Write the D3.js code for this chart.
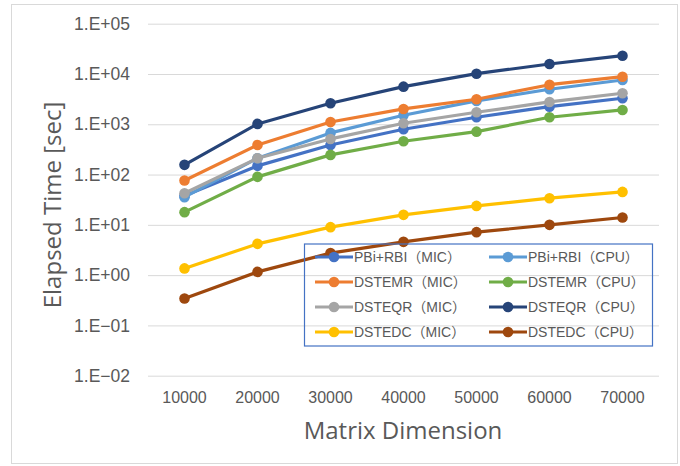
<!DOCTYPE html>
<html><head><meta charset="utf-8">
<script src="https://cdn.jsdelivr.net/npm/d3@7"></script>
<style>
body{margin:0;background:#fff;}
text{font-family:"Liberation Sans","Noto Sans CJK JP",sans-serif;fill:#595959;}
</style></head>
<body><svg id="c" width="680" height="466"></svg>
<script>
const categories = ["10000","20000","30000","40000","50000","60000","70000"];
const seriesNames = ["PBi+RBI（MIC）","PBi+RBI（CPU）","DSTEMR（MIC）","DSTEMR（CPU）","DSTEQR（MIC）","DSTEQR（CPU）","DSTEDC（MIC）","DSTEDC（CPU）"];
const pbiMic    = [37.7, 149, 388, 797, 1380, 2240, 3290];
const pbiCpu    = [35.5, 211, 673, 1511, 2910, 4970, 7600];
const dstemrMic = [76, 388, 1112, 2017, 3143, 6124, 8840];
const dstemrCpu = [17.9, 90, 246, 460, 714, 1380, 1927];
const dsteqrMic = [42.6, 211, 511, 1047, 1734, 2780, 4140];
const dsteqrCpu = [156, 1016, 2620, 5600, 10140, 15800, 23100];
const dstedcMic = [1.36, 4.19, 9.0, 15.8, 23.8, 33.9, 45.2];
const dstedcCpu = [0.343, 1.16, 2.74, 4.59, 7.16, 10.0, 14.0];
const yTicks = [1e-2, 1e-1, 1e0, 1e1, 1e2, 1e3, 1e4, 1e5];
const yTickLabels = ["1.E−02","1.E−01","1.E+00","1.E+01","1.E+02","1.E+03","1.E+04","1.E+05"];
const colors = ["#4472C4","#5B9BD5","#ED7D31","#70AD47","#A5A5A5","#264478","#FFC000","#9E480E"];
const allSeries = [pbiMic,pbiCpu,dstemrMic,dstemrCpu,dsteqrMic,dsteqrCpu,dstedcMic,dstedcCpu];

const svg = d3.select("#c");
svg.append("rect").attr("x",11.5).attr("y",4.5).attr("width",666).attr("height",459)
  .attr("fill","#fff").attr("stroke","#d9d9d9").attr("stroke-width",1);

const x = d3.scaleBand().domain(categories).range([148,659]);
const y = d3.scaleLog().domain([1e-2,1e5]).range([375.7,23.7]);

// gridlines
const yAxis = d3.axisLeft(y).tickValues(yTicks).tickFormat((d,i)=>yTickLabels[i])
  .tickSize(-(659-148)).tickPadding(18);
const gy = svg.append("g").attr("transform","translate(148,0)").call(yAxis);
gy.select(".domain").remove();
gy.selectAll(".tick line").attr("stroke","#d9d9d9").attr("stroke-width",1);
gy.selectAll(".tick text").attr("font-size",17.5).attr("fill","#595959").attr("x",-18);

const xAxis = d3.axisBottom(x).tickSize(0).tickPadding(16);
const gx = svg.append("g").attr("transform","translate(0,375.7)").call(xAxis);
gx.select(".domain").remove();
gx.selectAll(".tick text").attr("font-size",16).attr("fill","#595959");

svg.append("text").attr("x",403).attr("y",439).attr("text-anchor","middle")
  .attr("font-size",24).style("font-family","'Open Sans','Noto Sans',sans-serif").text("Matrix Dimension");
svg.append("text").attr("transform","translate(61,205) rotate(-90)").attr("text-anchor","middle")
  .attr("font-size",24).style("font-family","'Open Sans','Noto Sans',sans-serif").text("Elapsed Time [sec]");

const line = d3.line().x((d,i)=>x(categories[i])+x.bandwidth()/2).y(d=>y(d));
allSeries.forEach((s,k)=>{
  const g = svg.append("g");
  g.append("path").datum(s).attr("d",line).attr("fill","none").attr("stroke",colors[k])
    .attr("stroke-width",3.2).attr("stroke-linejoin","round");
  g.selectAll("circle").data(s).join("circle")
    .attr("cx",(d,i)=>x(categories[i])+x.bandwidth()/2).attr("cy",d=>y(d)).attr("r",5.3)
    .attr("fill",colors[k]);
});

// legend
svg.append("rect").attr("x",304.5).attr("y",244).attr("width",348).attr("height",102)
  .attr("fill","none").attr("stroke","#4472C4").attr("stroke-width",1.2);
seriesNames.forEach((name,k)=>{
  const col = k%2, row = Math.floor(k/2);
  const lx = col===0 ? 315 : 489;
  const ly = 257 + row*25;
  svg.append("line").attr("x1",lx).attr("x2",lx+38).attr("y1",ly).attr("y2",ly)
    .attr("stroke",colors[k]).attr("stroke-width",3.2);
  svg.append("circle").attr("cx",lx+19).attr("cy",ly).attr("r",5.3).attr("fill",colors[k]);
  svg.append("text").attr("x",lx+39).attr("y",ly+5).attr("font-size",14).text(name);
});
</script></body></html>
